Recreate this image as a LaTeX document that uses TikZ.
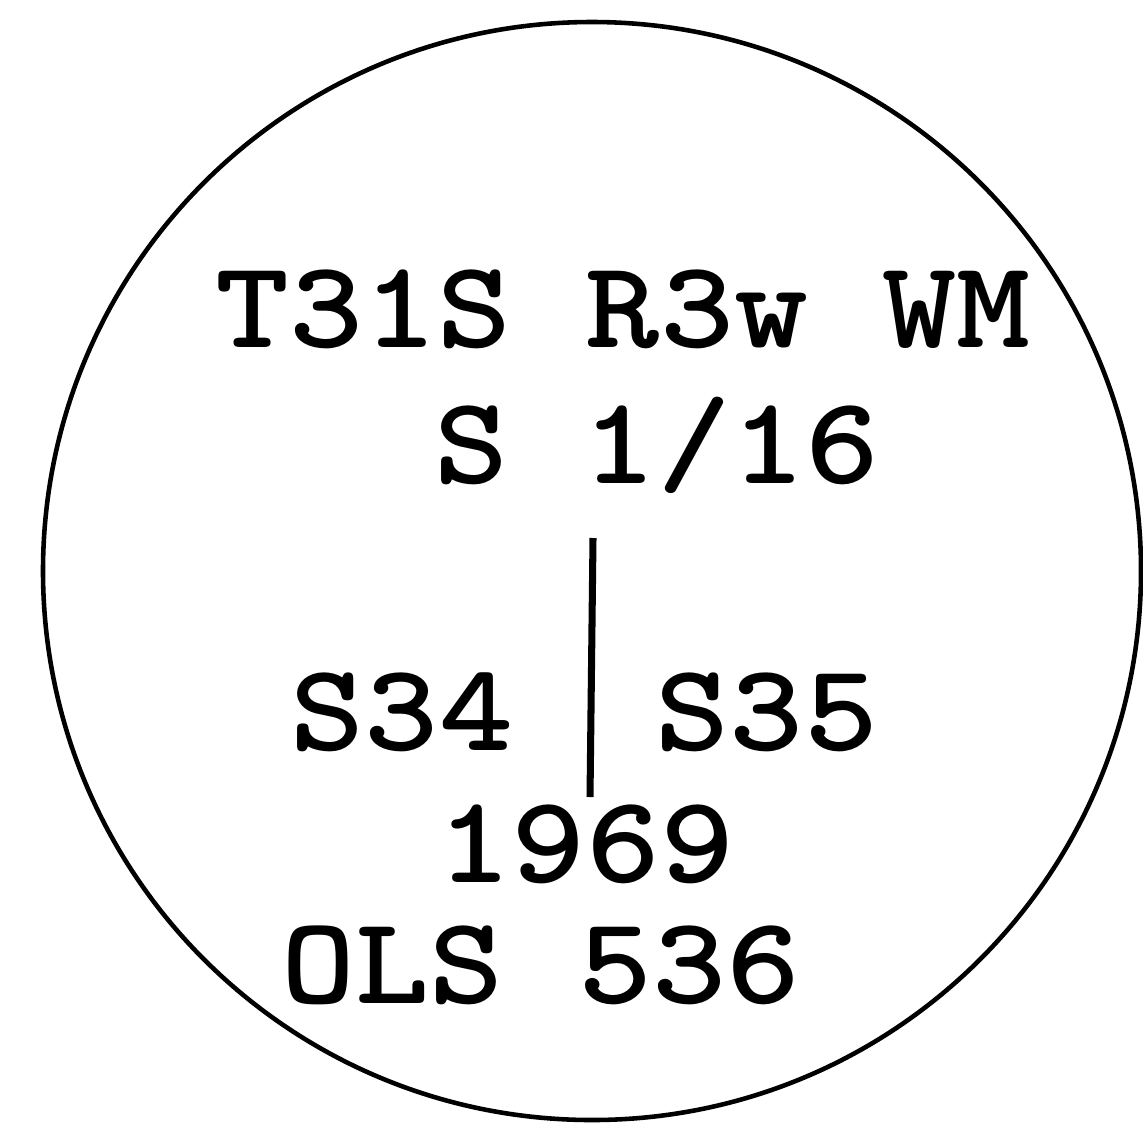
\documentclass[tikz,border=0pt]{standalone}
\usepackage{fontspec}
\newcommand{\stamp}[1]{\scalebox{1.13}[1]{#1}}
\begin{document}
\begin{tikzpicture}[x=0.01cm,y=-0.01cm,
  lbl/.style={inner sep=0pt,anchor=base,
    font=\fontsize{35.5}{40}\selectfont\ttfamily\bfseries}]
  \useasboundingbox (0,0) rectangle (1143,1130);
  \draw[line width=1.3pt] (592,571) circle[radius=549];
  \node[lbl] (twp) at (623,347) {\stamp{T31S R3w WM}};
  \node[lbl] (sec) at (657,483) {\stamp{S 1/16}};
  \node[lbl] (sl) at (402,750) {\stamp{S34}};
  \node[lbl] (sr) at (767,750) {\stamp{S35}};
  \node[lbl] (yr) at (586,882) {\stamp{1969}};
  \node[lbl] (ols) at (541,1003) {\stamp{OLS 536}};
  \coordinate (top) at (593,538);
  \coordinate (bot) at (590,797);
  \draw[line width=2pt] (top) -- (bot);
\end{tikzpicture}
\end{document}
